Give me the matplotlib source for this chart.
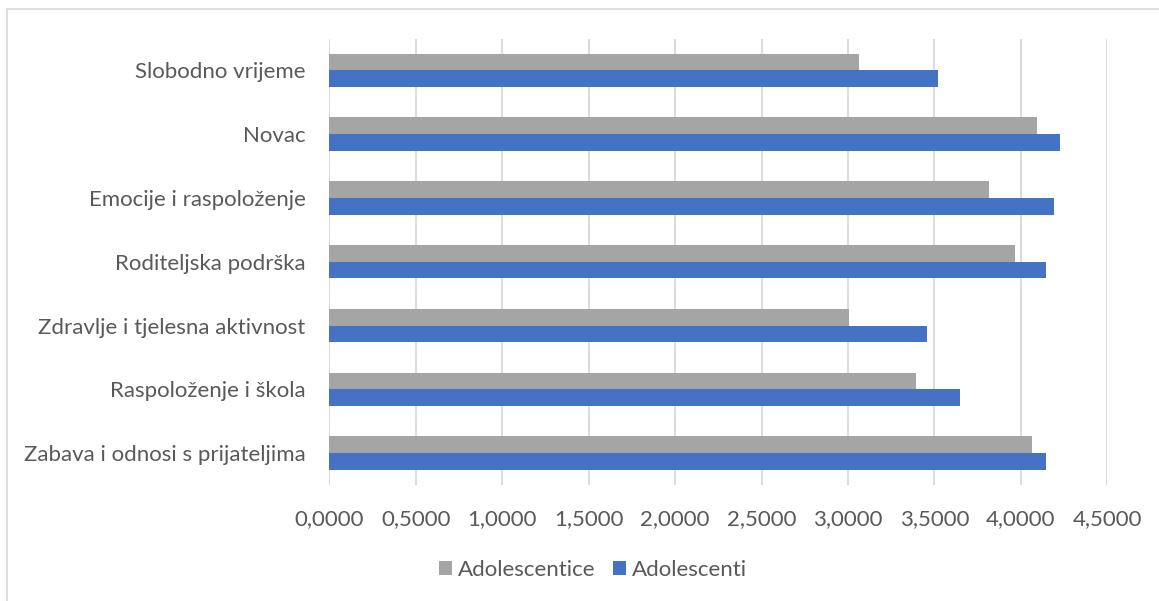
import numpy as np
import matplotlib.pyplot as plt
from matplotlib.patches import Rectangle
from matplotlib.ticker import FuncFormatter

# -- Data (bottom to top, as drawn)
categories = ["Zabava i odnosi s prijateljima", "Raspoloženje i škola",
              "Zdravlje i tjelesna aktivnost", "Roditeljska podrška",
              "Emocije i raspoloženje", "Novac", "Slobodno vrijeme"]
adolescentice = [4.066, 3.395, 3.006, 3.968, 3.814, 4.091, 3.064]
adolescenti   = [4.143, 3.650, 3.457, 4.145, 4.193, 4.224, 3.520]

plt.rcParams['font.family'] = ['Lato', 'DejaVu Sans']
txt = "#595959"

fig = plt.figure(figsize=(11.59, 6.01), dpi=100)
ax = fig.add_axes([0.2841, 0.193, 0.6713, 0.7429])

# -- Border of the chart area
fig.patches.append(Rectangle((7/1159, -0.1), 1.2, 1 - 9/601 + 0.1,
                             transform=fig.transFigure, fill=False,
                             edgecolor="#d9d9d9", linewidth=1.2))

y = np.arange(len(categories))
h = 0.262
ax.barh(y + h/2, adolescentice, height=h, color="#a5a5a5", label="Adolescentice")
ax.barh(y - h/2, adolescenti, height=h, color="#4472c4", label="Adolescenti")

ax.set_xlim(0, 4.5)
ax.set_ylim(-0.5, len(categories) - 0.5)
ax.set_xticks(np.arange(0, 4.51, 0.5))
ax.xaxis.set_major_formatter(FuncFormatter(lambda v, p: f"{v:.4f}".replace(".", ",")))
ax.set_yticks(y)
ax.set_yticklabels(categories)

ax.grid(axis="x", color="#d9d9d9", linewidth=1.3)
ax.set_axisbelow(True)
for s in ax.spines.values():
    s.set_visible(False)
ax.tick_params(axis="both", length=0, labelsize=16, colors=txt)
ax.tick_params(axis="y", pad=17)
ax.tick_params(axis="x", pad=17)

handles, labels = ax.get_legend_handles_labels()
fig.legend(handles, labels, loc="center", bbox_to_anchor=(0.512, 1 - 570/601),
           ncol=2, frameon=False, fontsize=16, labelcolor=txt,
           handlelength=0.55, handleheight=0.55, handletextpad=0.3, columnspacing=0.8)

fig.savefig("out.png", dpi=100)
